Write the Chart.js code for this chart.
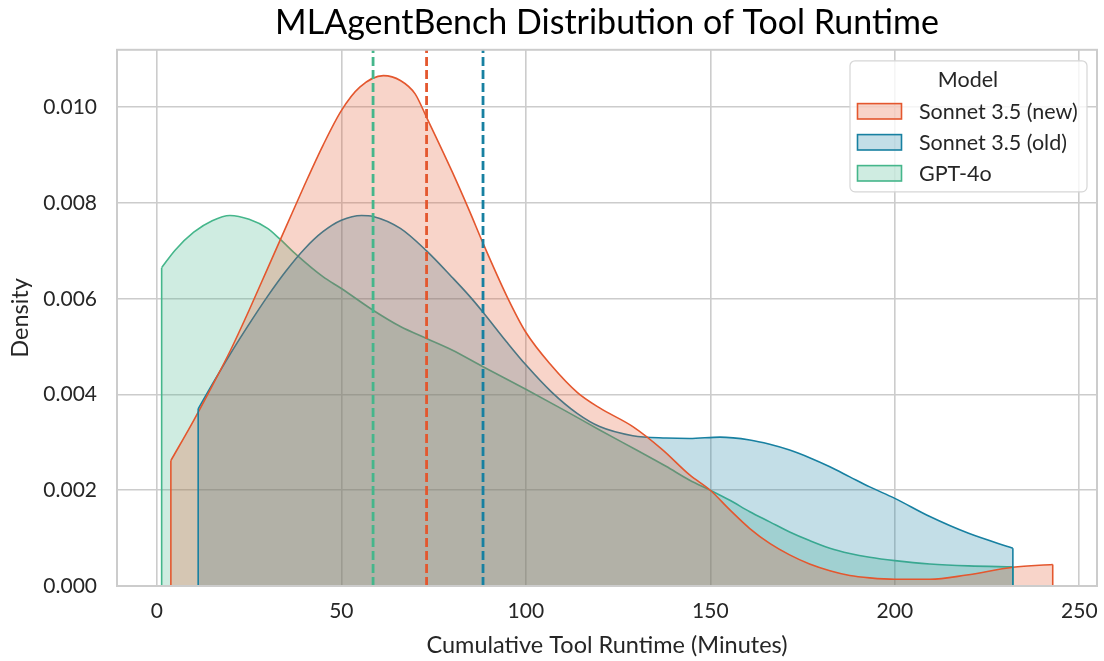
<!DOCTYPE html>
<html>
<head>
<meta charset="utf-8">
<script src="https://cdn.jsdelivr.net/npm/chart.js@4.4.1/dist/chart.umd.min.js"></script>
<style>
    html, body { margin: 0; padding: 0; background: #fff; }
    #wrap { width: 1104px; height: 661px; position: relative; }
</style>
</head>
<body>
<div id="wrap"><canvas id="kdeChart"></canvas></div>
<script>
// Series (x in minutes, y density)
const seriesNames = ['Sonnet 3.5 (new)', 'Sonnet 3.5 (old)', 'GPT-4o'];
const seriesColors = ['#e4572e', '#1780a1', '#45b68b'];

const newX = [3.8, 10, 15, 20, 25, 30, 35, 40, 45, 50, 55, 61.4, 66, 70, 73.1, 80, 84.8, 88.4, 95, 100, 107, 114, 120, 129, 137, 144.4, 150, 155.3, 160.7, 166.1, 171.5, 176.9, 182.4, 187.8, 193.2, 200, 209.5, 219.5, 232, 242.8];
const newY = [0.00262, 0.00346, 0.00418, 0.00493, 0.00576, 0.00663, 0.00750, 0.00837, 0.00920, 0.00993, 0.01042, 0.01066, 0.01056, 0.01028, 0.00979, 0.00866, 0.00782, 0.00716, 0.00603, 0.00530, 0.00460, 0.00404, 0.00372, 0.00333, 0.00285, 0.00232, 0.00200, 0.00159, 0.00120, 0.00089, 0.00065, 0.00046, 0.00032, 0.00022, 0.00017, 0.00014, 0.00014, 0.00023, 0.00039, 0.00045];

const oldX = [11.2, 15, 20, 25, 30, 35, 40, 45, 50, 55.5, 58.6, 66, 73.1, 80, 84.8, 88.4, 95, 100, 107, 114, 120, 129, 138, 144.4, 152.6, 160.7, 166.1, 171.5, 176.9, 182.4, 187.8, 193.2, 200, 209.5, 220, 232];
const oldY = [0.00370, 0.00421, 0.00486, 0.00547, 0.00605, 0.00658, 0.00704, 0.00740, 0.00764, 0.00774, 0.00772, 0.00747, 0.00700, 0.00645, 0.00605, 0.00572, 0.00508, 0.00462, 0.00405, 0.00360, 0.00333, 0.00314, 0.00309, 0.00308, 0.00311, 0.00305, 0.00296, 0.00284, 0.00268, 0.00249, 0.00228, 0.00207, 0.00183, 0.00145, 0.00110, 0.00079];

const gptX = [1.3, 5, 10, 15, 19.8, 25, 30, 33.3, 37.8, 45, 49.9, 58.6, 66, 73.1, 80, 88.4, 100, 110, 120, 130, 138, 144.4, 150, 155.3, 160.7, 166.1, 171.5, 176.9, 182.4, 187.8, 193.2, 200, 209.5, 220, 232];
const gptY = [0.00665, 0.00702, 0.00739, 0.00763, 0.00774, 0.00766, 0.00747, 0.00725, 0.00692, 0.00646, 0.00622, 0.00576, 0.00542, 0.00517, 0.00493, 0.00458, 0.00411, 0.00369, 0.00326, 0.00284, 0.00250, 0.00221, 0.00200, 0.00179, 0.00155, 0.00134, 0.00113, 0.00095, 0.00079, 0.00068, 0.00060, 0.00053, 0.00046, 0.00042, 0.00040];

// Mean lines
const meanValues = [73.1, 88.4, 58.6];

// Axes
const xTicks = [0, 50, 100, 150, 200, 250];
const yTicks = [0, 0.002, 0.004, 0.006, 0.008, 0.010];
const xRange = [-10.8, 254.8];
const yRange = [0, 0.0112];

const seriesX = [newX, oldX, gptX];
const seriesY = [newY, oldY, gptY];

function hexToRgba(hex, a) {
    const n = parseInt(hex.slice(1), 16);
    return `rgba(${(n >> 16) & 255}, ${(n >> 8) & 255}, ${n & 255}, ${a})`;
}

function toPoints(xs, ys) {
    return xs.map((x, i) => ({ x: x, y: ys[i] }));
}

// Straight edges where the curves are cut off
function edgeDatasets() {
    const sets = [];
    seriesX.forEach((xs, i) => {
        const ys = seriesY[i];
        const last = xs.length - 1;
        [[xs[0], ys[0]], [xs[last], ys[last]]].forEach(([x, y]) => {
            sets.push({
                data: [{ x: x, y: 0 }, { x: x, y: y }],
                borderColor: seriesColors[i],
                borderWidth: 1.6,
                pointRadius: 0,
                fill: false
            });
        });
    });
    return sets;
}

function meanDatasets() {
    return meanValues.map((m, i) => ({
        data: [{ x: m, y: yRange[0] }, { x: m, y: yRange[1] }],
        borderColor: seriesColors[i],
        borderWidth: 2.8,
        borderDash: [9, 4],
        pointRadius: 0,
        fill: false
    }));
}

function curveDatasets() {
    return seriesNames.map((name, i) => ({
        label: name,
        data: toPoints(seriesX[i], seriesY[i]),
        borderColor: seriesColors[i],
        backgroundColor: hexToRgba(seriesColors[i], 0.26),
        borderWidth: 1.6,
        pointRadius: 0,
        fill: 'origin',
        cubicInterpolationMode: 'monotone'
    }));
}

const frameBox = {
    id: 'frameBox',
    afterDatasetsDraw(chart) {
        const { ctx, chartArea: a } = chart;
        ctx.save();
        ctx.strokeStyle = '#cccccc';
        ctx.lineWidth = 2;
        ctx.strokeRect(a.left, a.top, a.right - a.left, a.bottom - a.top);
        ctx.restore();
    }
};

const modelLegend = {
    id: 'modelLegend',
    afterDraw(chart) {
        const { ctx, chartArea: a } = chart;
        const w = 237, h = 131;
        const left = a.right - 10 - w;
        const top = a.top + 11;

        ctx.save();
        ctx.beginPath();
        ctx.roundRect(left, top, w, h, 5);
        ctx.fillStyle = 'rgba(255, 255, 255, 0.8)';
        ctx.fill();
        ctx.strokeStyle = '#d6d6d6';
        ctx.lineWidth = 1.2;
        ctx.stroke();

        ctx.fillStyle = '#262626';
        ctx.font = '21.5px Lato';
        ctx.textBaseline = 'middle';
        ctx.textAlign = 'center';
        ctx.fillText('Model', left + 118, top + 19);

        ctx.textAlign = 'left';
        seriesNames.forEach((name, i) => {
            const cy = top + 50.5 + i * 31;
            ctx.fillStyle = hexToRgba(seriesColors[i], 0.26);
            ctx.fillRect(left + 7.5, cy - 7.7, 44, 15.4);
            ctx.strokeStyle = seriesColors[i];
            ctx.lineWidth = 1.6;
            ctx.strokeRect(left + 7.5, cy - 7.7, 44, 15.4);
            ctx.fillStyle = '#262626';
            ctx.fillText(name, left + 69, cy + 1);
        });
        ctx.restore();
    }
};

Chart.defaults.font.family = 'Lato';
Chart.defaults.color = '#262626';

new Chart(document.getElementById('kdeChart'), {
    type: 'line',
    data: {
        datasets: [...meanDatasets(), ...edgeDatasets(), ...curveDatasets()]
    },
    options: {
        responsive: true,
        maintainAspectRatio: false,
        animation: false,
        layout: { padding: { top: 0, right: 7, bottom: 0, left: 0 } },
        plugins: {
            legend: { display: false },
            tooltip: { enabled: false },
            title: {
                display: true,
                text: 'MLAgentBench Distribution of Tool Runtime',
                fullSize: false,
                color: '#000',
                font: { size: 34, weight: 'normal' },
                padding: { top: 3, bottom: 6 }
            }
        },
        scales: {
            x: {
                type: 'linear',
                min: xRange[0],
                max: xRange[1],
                afterBuildTicks: scale => { scale.ticks = xTicks.map(v => ({ value: v })); },
                afterFit: scale => {
                    scale.height = 75;
                    scale.paddingLeft = 0;
                    scale.paddingRight = 0;
                },
                grid: { color: '#cccccc', lineWidth: 1.6, drawTicks: false },
                border: { display: false },
                ticks: { font: { size: 21 }, padding: 13, maxRotation: 0 },
                title: {
                    display: true,
                    text: 'Cumulative Tool Runtime (Minutes)',
                    font: { size: 23.5 },
                    padding: { top: 0, bottom: 1 }
                }
            },
            y: {
                min: yRange[0],
                max: yRange[1],
                afterBuildTicks: scale => { scale.ticks = yTicks.map(v => ({ value: v })); },
                afterFit: scale => {
                    scale.width = 117;
                    scale.paddingTop = 0;
                    scale.paddingBottom = 0;
                },
                grid: { color: '#cccccc', lineWidth: 1.6, drawTicks: false },
                border: { display: false },
                ticks: {
                    font: { size: 21 },
                    padding: 20,
                    callback: value => value.toFixed(3)
                },
                title: {
                    display: true,
                    text: 'Density',
                    font: { size: 23.5 },
                    padding: { top: 6, bottom: 0 }
                }
            }
        }
    },
    plugins: [frameBox, modelLegend]
});
</script>
</body>
</html>
